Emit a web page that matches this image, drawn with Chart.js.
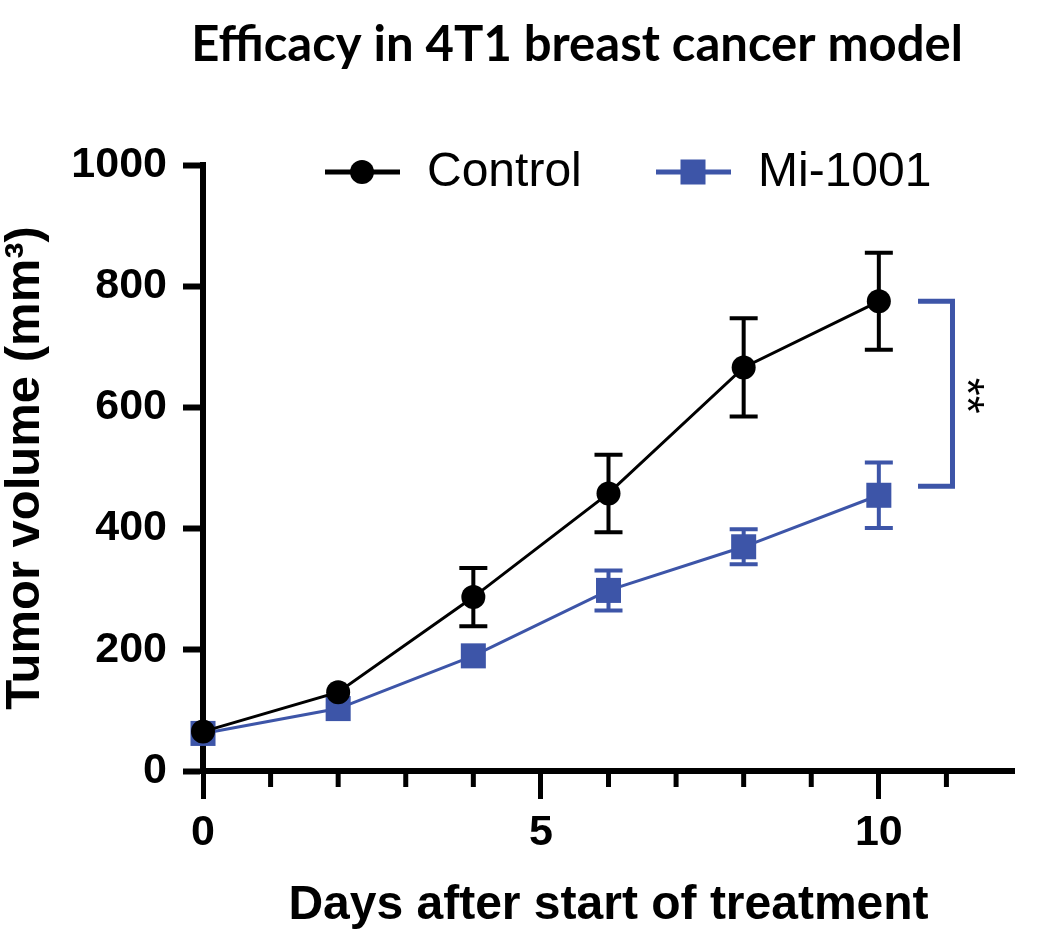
<!DOCTYPE html>
<html>
<head>
<meta charset="utf-8">
<script src="https://cdn.jsdelivr.net/npm/chart.js@4.4.0/dist/chart.umd.min.js"></script>
<style>
  html, body { margin: 0; padding: 0; background: #ffffff; }
  #wrap { width: 1044px; height: 933px; }
</style>
</head>
<body>
<div id="wrap"><canvas id="tumorChart"></canvas></div>
<script>
// values (mean +/- error)
var days = [0, 2, 4, 6, 8, 10];
var controlMean = [65, 130, 287, 458, 666, 775];
var controlErr = [6, 12, 48, 64, 81, 80];
var miMean = [62, 103, 190, 298, 370, 455];
var miErr = [5, 10, 18, 33, 29, 54];

var yTicks = [0, 200, 400, 600, 800, 1000];
var xMajorTicks = [0, 5, 10];
var xMinorTicks = [1, 2, 3, 4, 6, 7, 8, 9, 11];

// significance bracket between the day 10 groups
var bracketX = [10.58, 11.09];
var bracketY = [775, 470];
var sigLabel = '**';

var chartTitle = 'Efficacy in 4T1 breast cancer model';

var BLACK = '#000000';
var BLUE = '#3d55a8';
var AXIS_FONT = 'Liberation Sans, Arial, sans-serif';

function toPoints(xs, ys) {
	return xs.map(function(x, i) { return { x: x, y: ys[i] }; });
}

function drawMarker(ctx, style, x, y, color) {
	ctx.save();
	ctx.fillStyle = color;
	if (style === 'rect') {
		ctx.fillRect(x - 12.5, y - 12.5, 25, 25);
	} else {
		ctx.beginPath();
		ctx.arc(x, y, 12, 0, Math.PI * 2);
		ctx.fill();
	}
	ctx.restore();
}

// error bars are hidden behind the symbol when shorter than it (as in Prism)
var errorBarPlugin = {
	id : 'errorBars',
	beforeDatasetsDraw : function(chart) {
		var ctx = chart.ctx, yScale = chart.scales.y;
		chart.data.datasets.forEach(function(ds, di) {
			var meta = chart.getDatasetMeta(di);
			ctx.save();
			ctx.strokeStyle = ds.borderColor;
			ctx.lineWidth = 4;
			ds.errors.forEach(function(e, i) {
				var x = meta.data[i].x, y = meta.data[i].y;
				var yTop = yScale.getPixelForValue(ds.data[i].y + e);
				var yBot = yScale.getPixelForValue(ds.data[i].y - e);
				if (y - yTop < 13) return;
				ctx.beginPath();
				ctx.moveTo(x, yTop); ctx.lineTo(x, yBot);
				ctx.moveTo(x - 14, yTop); ctx.lineTo(x + 14, yTop);
				ctx.moveTo(x - 14, yBot); ctx.lineTo(x + 14, yBot);
				ctx.stroke();
			});
			ctx.restore();
		});
	}
};

var decorPlugin = {
	id : 'decor',
	afterDraw : function(chart) {
		var ctx = chart.ctx, xs = chart.scales.x, ys = chart.scales.y;
		var area = chart.chartArea;

		// title, sitting a little right of centre like the slide it came from
		ctx.save();
		ctx.fillStyle = BLACK;
		ctx.font = 'bold 49px Lato';
		ctx.textAlign = 'center';
		ctx.textBaseline = 'middle';
		ctx.fillText(chartTitle, 577, 45);
		ctx.restore();

		// minor x ticks
		ctx.save();
		ctx.strokeStyle = BLACK;
		ctx.lineWidth = 5;
		xMinorTicks.forEach(function(v) {
			var px = xs.getPixelForValue(v);
			ctx.beginPath();
			ctx.moveTo(px, area.bottom);
			ctx.lineTo(px, area.bottom + 16);
			ctx.stroke();
		});
		ctx.restore();

		// significance bracket
		var x0 = xs.getPixelForValue(bracketX[0]), x1 = xs.getPixelForValue(bracketX[1]);
		var y0 = ys.getPixelForValue(bracketY[0]), y1 = ys.getPixelForValue(bracketY[1]);
		ctx.save();
		ctx.strokeStyle = BLUE;
		ctx.lineWidth = 5;
		ctx.beginPath();
		ctx.moveTo(x0, y0); ctx.lineTo(x1, y0); ctx.lineTo(x1, y1); ctx.lineTo(x0, y1);
		ctx.stroke();
		ctx.translate(x1 + 12, (y0 + y1) / 2 + 2);
		ctx.rotate(Math.PI / 2);
		ctx.fillStyle = BLACK;
		ctx.font = '46px ' + AXIS_FONT;
		ctx.textAlign = 'center';
		ctx.textBaseline = 'middle';
		ctx.fillText(sigLabel, 0, 0);
		ctx.restore();

		// legend: line + marker + label for each series
		var legendY = area.top + 7;
		var starts = [area.left + 122, area.left + 453];
		chart.data.datasets.forEach(function(ds, di) {
			var lx = starts[di];
			ctx.save();
			ctx.strokeStyle = ds.borderColor;
			ctx.lineWidth = 5;
			ctx.beginPath();
			ctx.moveTo(lx, legendY);
			ctx.lineTo(lx + 75, legendY);
			ctx.stroke();
			drawMarker(ctx, ds.pointStyle, lx + 37, legendY, ds.borderColor);
			ctx.fillStyle = BLACK;
			ctx.font = '48px ' + AXIS_FONT;
			ctx.textAlign = 'left';
			ctx.textBaseline = 'middle';
			ctx.fillText(ds.label, lx + 102, legendY + 1);
			ctx.restore();
		});
	}
};

var chartData = {
	datasets : [ {
		label : 'Control',
		data : toPoints(days, controlMean),
		errors : controlErr,
		borderColor : BLACK,
		backgroundColor : BLACK,
		borderWidth : 3,
		pointStyle : 'circle',
		pointRadius : 12,
		pointBorderWidth : 0,
		pointBackgroundColor : BLACK,
		clip : false
	}, {
		label : 'Mi-1001',
		data : toPoints(days, miMean),
		errors : miErr,
		borderColor : BLUE,
		backgroundColor : BLUE,
		borderWidth : 3,
		pointStyle : 'rect',
		pointRadius : 17.7,
		pointBorderWidth : 0,
		pointBackgroundColor : BLUE,
		clip : false
	} ]
};

var myChart = new Chart(document.getElementById('tumorChart').getContext('2d'), {
	type : 'line',
	data : chartData,
	plugins : [ errorBarPlugin, decorPlugin ],
	options : {
		responsive : true,
		maintainAspectRatio : false,
		animation : false,
		layout : { padding : { left : 0, right : 30, top : 165, bottom : 0 } },
		plugins : {
			legend : { display : false },
			tooltip : { enabled : false },
			title : { display : false }
		},
		scales : {
			x : {
				type : 'linear',
				min : 0,
				max : 12,
				afterBuildTicks : function(scale) {
					scale.ticks = xMajorTicks.map(function(v) { return { value : v }; });
				},
				afterFit : function(scale) { scale.height = 162; },
				border : { display : true, color : BLACK, width : 6 },
				grid : { drawOnChartArea : false, drawTicks : true, tickLength : 28, tickWidth : 5, tickColor : BLACK },
				ticks : {
					color : BLACK,
					autoSkip : false,
					maxRotation : 0,
					padding : 8,
					font : { family : AXIS_FONT, size : 43, weight : 'bold' },
					callback : function(v) { return String(v); }
				},
				title : {
					display : true,
					text : 'Days after start of treatment',
					color : BLACK,
					padding : 0,
					font : { family : AXIS_FONT, size : 48, weight : 'bold', lineHeight : 1.15 }
				}
			},
			y : {
				min : 0,
				max : 1000,
				afterBuildTicks : function(scale) {
					scale.ticks = yTicks.map(function(v) { return { value : v }; });
				},
				afterFit : function(scale) { scale.width = 203; },
				border : { display : true, color : BLACK, width : 6 },
				grid : { drawOnChartArea : false, drawTicks : true, tickLength : 20, tickWidth : 6, tickColor : BLACK },
				ticks : {
					color : BLACK,
					padding : 16,
					font : { family : AXIS_FONT, size : 43, weight : 'bold' },
					callback : function(v) { return String(v); }
				},
				title : {
					display : true,
					text : 'Tumor volume (mm³)',
					color : BLACK,
					padding : 0,
					font : { family : AXIS_FONT, size : 49, weight : 'bold', lineHeight : 1.05 }
				}
			}
		}
	}
});
</script>
</body>
</html>
